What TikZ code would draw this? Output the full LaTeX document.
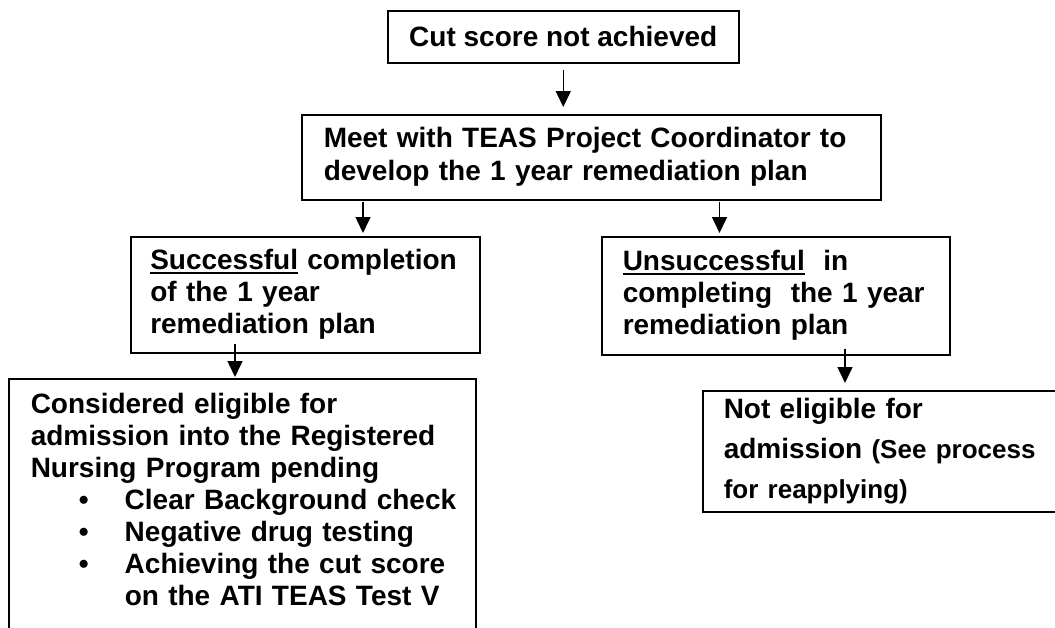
\documentclass[tikz,border=0pt]{standalone}
\usepackage{fontspec}
\setmainfont{Liberation Sans}
\usetikzlibrary{arrows.meta,positioning,calc}

\newcommand{\udl}[1]{\setbox0\hbox{#1}\rlap{\rule[-4.5pt]{\wd0}{2pt}}\box0\relax}

\begin{document}
\begin{tikzpicture}[
    x=1pt, y=-1pt,
    box/.style={rectangle, draw=black, line width=1.5pt, anchor=north west, align=left,
        font=\fontsize{28}{32}\selectfont\bfseries},
    arrow/.style={-{Triangle[width=15pt,length=16pt]}, line width=1.5pt}
]
\useasboundingbox (0,0) rectangle (1055,627);
\clip (0,0) rectangle (1055,627);

% Main flow
\node[box, align=center, minimum width=351pt, minimum height=52pt] (cut) at (387,10) {Cut score not achieved};
\node[box, minimum width=579pt, minimum height=85pt, inner xsep=22pt, text width=535pt, font=\fontsize{28}{33}\selectfont\bfseries] (meet) at (301,114)
    {Meet with TEAS Project Coordinator to\\develop the 1 year remediation plan};
\node[box, minimum width=349pt, minimum height=116pt, inner xsep=19.5pt, text width=310pt] (succ) at (130,236)
    {\udl{Successful} completion\\of the 1 year\\remediation plan};
\node[box, minimum width=348pt, minimum height=118pt, inner xsep=21pt, text width=306pt] (unsucc) at (601,236)
    {\udl{Unsuccessful}\ \ in\\completing\ \ the 1 year\\remediation plan};
\node[box, minimum width=467pt, inner xsep=22pt, inner ysep=14.6pt, text width=423pt] (elig) at (8,378)
    {Considered eligible for\\
     admission into the Registered\\
     Nursing Program pending\\
     \mbox{\hspace*{48pt}\makebox[46pt][l]{\textbullet}Clear Background check}\\
     \mbox{\hspace*{48pt}\makebox[46pt][l]{\textbullet}Negative drug testing}\\
     \mbox{\hspace*{48pt}\makebox[46pt][l]{\textbullet}Achieving the cut score}\\
     \mbox{\hspace*{94pt}on the ATI TEAS Test V}\rule[-40pt]{0pt}{40pt}};
\node[box, minimum width=370pt, minimum height=121pt, inner xsep=21pt, text width=328pt, font=\fontsize{28}{40}\selectfont\bfseries] (noelig) at (702,390)
    {Not eligible for\\
     admission {\fontsize{26}{40}\selectfont(See process}\\
     {\fontsize{26}{40}\selectfont for reapplying)}};

% Arrows
\coordinate (m1) at ($(meet.south west)+(62,0)$);
\coordinate (m2) at ($(meet.south east)+(-162,0)$);
\coordinate (s1) at ($(succ.south west)+(105,0)$);
\coordinate (u1) at ($(unsucc.south west)+(244,0)$);
\draw[arrow, shorten <=6pt, shorten >=7pt] (cut.south) -- (cut.south |- meet.north);
\draw[arrow, shorten <=1pt, shorten >=3pt] (m1) -- (m1 |- succ.north);
\draw[arrow, shorten <=1pt, shorten >=3pt] (m2) -- (m2 |- unsucc.north);
\draw[arrow, shorten <=-10pt, shorten >=1pt] (s1) -- (s1 |- elig.north);
\draw[arrow, shorten <=-7pt, shorten >=7pt] (u1) -- (u1 |- noelig.north);

\end{tikzpicture}
\end{document}
